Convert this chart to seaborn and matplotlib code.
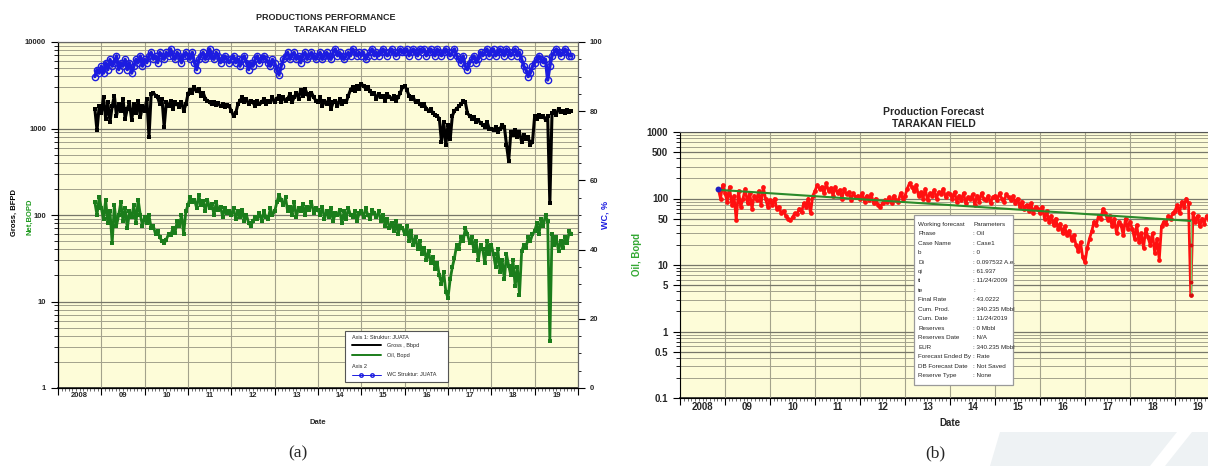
import matplotlib.pyplot as plt
import matplotlib.ticker as mticker
from matplotlib.lines import Line2D
from matplotlib.patches import Rectangle, Polygon
import numpy as np
import pandas as pd
import seaborn as sns

START_YEAR = 2008.85
STEP = 0.05

gross_bfpd = [
    1700, 950, 1800,
    1500, 2300, 1300, 2000, 1200, 1800, 2400, 1400, 1900, 1600, 2200, 1300, 1700, 2000, 1250, 1900, 1500, 2100, 1350, 1800,
    1600, 2200, 800, 2500, 2600, 2400, 2300, 1900, 2200, 1050, 2000, 1800, 2100, 1700, 2000, 1900, 1750, 2050, 1600, 1900,
    2500, 2800, 2600, 3000, 2700, 2900, 2400, 2600, 2200, 2100, 2000, 1900, 2050, 1850, 1950, 1800, 1900, 1750, 1850, 1800,
    1600, 1400, 1500, 1900, 2100, 2300, 2000, 2200, 1900, 2100, 2000, 1800, 2100, 1900, 2000, 2200, 1900, 2100, 2000, 2300,
    2000, 2200, 2400, 2000, 2300, 2100, 2200, 2500, 2000, 2300, 2600, 2200, 2800, 2400, 2900, 2500, 2200, 2600, 2300, 2100,
    2000, 2300, 1800, 2100, 1900, 2200, 1700, 2000, 2100, 1800, 2200, 1900, 2100, 2000, 2400, 2800, 3000, 2700, 3100, 2900,
    3300, 3100, 2900, 3000, 2700, 2500, 2600, 2200, 2500, 2300, 2400, 2100, 2500, 2300, 2200, 2400, 2100, 2300, 2600, 3000,
    3100, 2800, 2400, 2200, 2300, 2000, 2100, 1900, 1800, 1900, 1700, 1600, 1700, 1500, 1450, 1400, 1300, 700, 1200, 650,
    1100, 750, 1400, 1600, 1700, 1800, 1900, 2100, 2000, 1500, 1400, 1300, 1350, 1200, 1250, 1150, 1100, 1050, 1200, 1000,
    1000, 950, 1050, 900, 1000, 1100, 1050, 650, 420, 900, 850, 950, 800, 900, 700, 850, 750, 800, 650, 700,
    1400, 1300, 1450, 1350, 1400, 1250, 1400, 138, 1500, 1600, 1450, 1700, 1550, 1600, 1500, 1650, 1550, 1600,
]

oil_bopd = [
    140, 100, 160,
    120, 90, 150, 80, 110, 47, 130, 75, 100, 140, 85, 120, 70, 110, 95, 130, 80, 150, 100, 75,
    95, 80, 100, 70, 75, 60, 65, 55, 50, 47, 52, 60, 58, 70, 62, 85, 75, 100, 60, 110,
    130, 160, 140, 150, 120, 170, 130, 145, 110, 150, 120, 135, 100, 140, 115, 125, 95, 120, 105, 110,
    100, 120, 90, 110, 95, 115, 85, 100, 80, 75, 85, 95, 90, 105, 85, 110, 95, 90, 120, 100,
    110, 140, 170, 150, 130, 160, 110, 125, 100, 140, 95, 120, 110, 135, 100, 125, 115, 140, 105, 120,
    115, 100, 125, 90, 110, 95, 120, 85, 105, 100, 115, 80, 110, 90, 120, 100, 95, 110, 85, 105,
    110, 95, 120, 100, 90, 115, 105, 95, 110, 85, 100, 75, 90, 70, 80, 65, 85, 60, 75, 70,
    60, 75, 50, 65, 45, 55, 40, 50, 35, 42, 30, 38, 28, 33, 24, 28, 20, 16, 22, 13,
    11, 18, 25, 32, 45, 40, 55, 50, 70, 60, 48, 55, 38, 50, 30, 45, 40, 28, 50, 35,
    45, 35, 25, 40, 22, 30, 18, 35, 26, 20, 30, 15, 25, 12, 38, 45, 42, 55, 50, 60,
    65, 80, 60, 90, 75, 100, 85, 3.5, 60, 45, 55, 38, 50, 42, 55, 48, 65, 60,
]

wc_pct = [
    90, 92, 91,
    93, 91, 94, 92, 95, 93, 94, 96, 92, 94, 93, 95, 92, 94, 91, 93, 95, 94, 96, 93,
    95, 94, 96, 97, 95, 96, 94, 97, 96, 95, 97, 96, 98, 96, 95, 97, 96, 94, 96, 97,
    96, 95, 97, 94, 92, 95, 96, 97, 95, 96, 98, 96, 95, 97, 96, 94, 95, 96, 95, 94,
    95, 96, 94, 95, 93, 95, 96, 94, 92, 94, 93, 95, 96, 94, 95, 96, 95, 94, 93, 95,
    94, 92, 90.5, 93, 95, 96, 97, 95, 96, 97, 95, 96, 94, 96, 97, 95, 96, 97, 96, 95,
    96, 97, 95, 96, 97, 96, 95, 97, 98, 96, 97, 96, 95, 96, 97, 96, 98, 97, 96, 97,
    96, 97, 95, 96, 97, 98, 96, 97, 96, 97, 98, 97, 96, 97, 98, 97, 96, 97, 98, 97,
    97, 98, 96, 97, 98, 97, 96, 98, 97, 98, 96, 97, 98, 97, 96, 98, 97, 96, 97, 98,
    97, 96, 97, 98, 96, 95, 94, 96, 93, 92, 94, 95, 96, 94, 95, 97, 96, 97, 98, 96,
    97, 98, 96, 97, 98, 97, 96, 98, 97, 96, 97, 98, 96, 97, 95, 93, 92, 90, 91, 93,
    94, 95, 96, 95, 94, 95, 89, 93, 96, 97, 98, 97, 96, 97, 98, 97, 96, 96,
]

# shut-in event in 2019 (extra oil points of panel b)
shutin_year = 2019.35
shutin_oil = [20, 5.6, 3.5]

# decline forecast line (panel b)
forecast_year = [2008.85, 2019.35]
forecast_rate = [135, 46]

year_labels = ['2008', '09', '10', '11', '12', '13', '14', '15', '16', '17', '18', '19']

forecast_keys = ['Working forecast', 'Phase', 'Case Name', 'b', 'Di', 'qi', 'ti', 'te',
                 'Final Rate', 'Cum. Prod.', 'Cum. Date', 'Reserves', 'Reserves Date',
                 'EUR', 'Forecast Ended By', 'DB Forecast Date', 'Reserve Type']
forecast_vals = ['Parameters', ': Oil', ': Case1', ': 0', ': 0.097532 A.e.', ': 61.937',
                 ': 11/24/2009', ':', ': 43.0222', ': 340.235 Mbbl', ': 11/24/2019',
                 ': 0 Mbbl', ': N/A', ': 340.235 Mbbl', ': Rate', ': Not Saved', ': None']

# colours
BG = '#fdfcd8'
GRID_MAJOR = '#77776a'
GRID_MINOR = '#a3a28c'
GREEN = '#1b7d1b'
BLUE = '#1c1ce0'
RED = '#ff1010'

sns.set_theme(style='ticks')
plt.rcParams['font.family'] = ['Liberation Sans Narrow', 'Liberation Sans', 'DejaVu Sans']
plt.rcParams['font.weight'] = 'bold'

years = START_YEAR + STEP * np.arange(len(gross_bfpd))
df = pd.DataFrame({'year': years, 'gross': gross_bfpd, 'oil': oil_bopd, 'wc': wc_pct})

W, H = 1208, 466
fig = plt.figure(figsize=(W / 100, H / 100), dpi=100)
ax_a = fig.add_axes([58 / W, 78 / H, 520 / W, 346 / H], facecolor=BG)
ax_b = fig.add_axes([680 / W, 68 / H, 540 / W, 266 / H], facecolor=BG)


def style_date_axis(ax, size):
    ax.set_xlim(2008, 2020)
    ax.set_xticks(np.arange(2008, 2021), [''] * 13)
    ax.set_xticks(np.arange(2008.5, 2020), year_labels, minor=True)
    ax.tick_params(axis='x', which='major', direction='out', length=5, width=0.8,
                   color='black', bottom=True)
    ax.tick_params(axis='x', which='minor', length=0, labelsize=size, pad=3)
    ax.grid(True, axis='x', which='major', color=GRID_MINOR, lw=0.8)
    ax.set_xlabel('')
    # small monthly ticks along the date axis
    months = ax.secondary_xaxis('bottom')
    months.set_xticks(np.arange(2008, 2020.01, 1 / 12), [''] * 145)
    months.tick_params(axis='x', direction='out', length=2, width=0.5, color='#333333')


def style_log_axis(ax, lo, hi, ticks, labels, size):
    ax.set_yscale('log')
    ax.set_ylim(lo, hi)
    ax.set_yticks(ticks, labels)
    ax.yaxis.set_minor_locator(mticker.LogLocator(base=10, subs=np.arange(2, 10)))
    ax.yaxis.set_minor_formatter(mticker.NullFormatter())
    ax.tick_params(axis='y', which='major', direction='out', length=5, width=0.8,
                   color='black', labelsize=size, left=True)
    ax.tick_params(axis='y', which='minor', direction='out', length=3, width=0.6,
                   color='black', left=True)
    ax.grid(True, axis='y', which='major', color=GRID_MAJOR, lw=0.9)
    ax.grid(True, axis='y', which='minor', color=GRID_MINOR, lw=0.7)
    ax.set_ylabel('')


# ---------------- panel (a) ----------------
sns.lineplot(data=df, x='year', y='gross', ax=ax_a, color='black', lw=2.2,
             marker='s', markersize=3, markeredgewidth=0, estimator=None, sort=False)
sns.lineplot(data=df, x='year', y='oil', ax=ax_a, color=GREEN, lw=2.0,
             marker='s', markersize=3, markeredgewidth=0, estimator=None, sort=False)
style_date_axis(ax_a, 5.5)
style_log_axis(ax_a, 1, 10000, [1, 10, 100, 1000, 10000],
               ['1', '10', '100', '1000', '10000'], 5.5)
ax_a.set_axisbelow(True)

ax_wc = ax_a.twinx()
sns.lineplot(data=df, x='year', y='wc', ax=ax_wc, color=BLUE, lw=2.4,
             marker='o', markersize=4.5, markerfacecolor='none', markeredgecolor=BLUE,
             markeredgewidth=1.0, estimator=None, sort=False)
ax_wc.set_ylim(0, 100)
ax_wc.set_yticks(np.arange(0, 101, 20))
ax_wc.yaxis.set_minor_locator(mticker.MultipleLocator(5))
ax_wc.tick_params(axis='y', which='major', direction='out', length=5, width=0.8,
                  color='black', labelsize=5.5, right=True)
ax_wc.tick_params(axis='y', which='minor', direction='out', length=2.5, width=0.6,
                  color='black', right=True)
ax_wc.set_ylabel('')
ax_wc.grid(False)

for ax in (ax_a, ax_wc):
    ax.spines['left'].set_color('black')
    ax.spines['bottom'].set_color('black')
    ax.spines['top'].set_color('#666666')
    ax.spines['right'].set_color('#666666')
    for s in ax.spines.values():
        s.set_linewidth(0.8)

# legend box of panel (a)
tr = ax_wc.transAxes
ax_wc.add_patch(Rectangle((0.552, 0.017), 0.198, 0.148, transform=tr, facecolor='white',
                          edgecolor='#555555', lw=0.8, zorder=5))
leg_font = dict(fontsize=4, fontweight='normal', va='center', transform=tr, zorder=6)
ax_wc.text(0.565, 0.147, 'Axis 1: Struktur: JUATA', **leg_font)
ax_wc.add_line(Line2D([0.565, 0.621], [0.124, 0.124], color='black', lw=1.4,
                      transform=tr, zorder=6))
ax_wc.text(0.633, 0.124, 'Gross , Bbpd', **leg_font)
ax_wc.add_line(Line2D([0.565, 0.621], [0.095, 0.095], color=GREEN, lw=1.4,
                      transform=tr, zorder=6))
ax_wc.text(0.633, 0.095, 'Oil, Bopd', **leg_font)
ax_wc.text(0.565, 0.061, 'Axis 2', **leg_font)
ax_wc.add_line(Line2D([0.565, 0.583, 0.603, 0.621], [0.038] * 4, color=BLUE, lw=0.7,
                      marker='o', markevery=[1, 2], markersize=2.5, markerfacecolor='none',
                      transform=tr, zorder=6))
ax_wc.text(0.633, 0.038, 'WC Struktur: JUATA', **leg_font)

fig.text(326 / W, 1 - 17 / H, 'PRODUCTIONS PERFORMANCE', ha='center', va='center', fontsize=6.5)
fig.text(330 / W, 1 - 30 / H, 'TARAKAN FIELD', ha='center', va='center', fontsize=6.5)
fig.text(14 / W, 1 - 213 / H, 'Gross, BFPD', rotation=90, ha='center', va='center',
         fontsize=5.5, color='black')
fig.text(30 / W, 1 - 217 / H, 'Net,BOPD', rotation=90, ha='center', va='center',
         fontsize=5.5, color='#1f9a1f')
fig.text(605 / W, 1 - 215 / H, 'WC, %', rotation=90, ha='center', va='center',
         fontsize=6.5, color=BLUE)
fig.text(318 / W, 1 - 423 / H, 'Date', ha='center', va='center', fontsize=5.5)

# ---------------- panel (b) ----------------
sns.lineplot(data=df, x='year', y='oil', ax=ax_b, color=RED, lw=2.0,
             marker='o', markersize=3.4, markeredgewidth=0, estimator=None, sort=False)
ax_b.plot(forecast_year, forecast_rate, color='#2b8a2b', lw=1.5, zorder=3)
ax_b.plot([shutin_year, shutin_year], [forecast_rate[-1], shutin_oil[-1]],
          color='#6fd36f', lw=1.0, zorder=3)
ax_b.scatter([shutin_year] * len(shutin_oil), shutin_oil, s=8, color='#d01010',
             zorder=4, linewidths=0)
ax_b.scatter([years[0]], [oil_bopd[0]], s=18, color='#2020c0', zorder=4, linewidths=0)
style_date_axis(ax_b, 7)
style_log_axis(ax_b, 0.1, 1000, [0.1, 0.5, 1, 5, 10, 50, 100, 500, 1000],
               ['0.1', '0.5', '1', '5', '10', '50', '100', '500', '1000'], 7)
ax_b.set_axisbelow(True)
for s in ax_b.spines.values():
    s.set_color('black')
    s.set_linewidth(0.8)
ax_b.spines['top'].set_color('#555555')

# forecast parameter box
trb = ax_b.transAxes
ax_b.add_patch(Rectangle((0.433, 0.049), 0.184, 0.639, transform=trb, facecolor='white',
                         edgecolor='#9a9a9a', lw=0.9, zorder=5))
row_y = np.linspace(0.654, 0.083, len(forecast_keys))
for key, val, y in zip(forecast_keys, forecast_vals, row_y):
    ax_b.text(0.441, y, key, transform=trb, fontsize=4.5, fontweight='normal',
              va='center', zorder=6)
    ax_b.text(0.543, y, val, transform=trb, fontsize=4.5, fontweight='normal',
              va='center', zorder=6)

fig.text(934 / W, 1 - 112 / H, 'Production Forecast', ha='center', va='center', fontsize=7.5)
fig.text(934 / W, 1 - 124 / H, 'TARAKAN FIELD', ha='center', va='center', fontsize=7.5)
fig.text(637 / W, 1 - 255 / H, 'Oil, Bopd', rotation=90, ha='center', va='center',
         fontsize=7, color='#33a833')
fig.text(950 / W, 1 - 423 / H, 'Date', ha='center', va='center', fontsize=7)

# faint watermark behind the (b) caption
for pts in ([(990, 466), (1000, 432), (1177, 432), (1150, 466)],
            [(1165, 466), (1192, 432), (1208, 432), (1208, 466)]):
    fig.patches.append(Polygon([(x / W, 1 - y / H) for x, y in pts], closed=True,
                               transform=fig.transFigure, facecolor='#eef2f4',
                               edgecolor='none', zorder=0))

# panel captions
fig.text(298 / W, 1 - 453 / H, '(a)', ha='center', va='center', fontsize=12.5,
         fontweight='normal', family=['Liberation Serif', 'DejaVu Serif'])
fig.text(935 / W, 1 - 453 / H, '(b)', ha='center', va='center', fontsize=12.5,
         fontweight='normal', family=['Liberation Serif', 'DejaVu Serif'])

fig.savefig('out.png', dpi=100, facecolor='white')
